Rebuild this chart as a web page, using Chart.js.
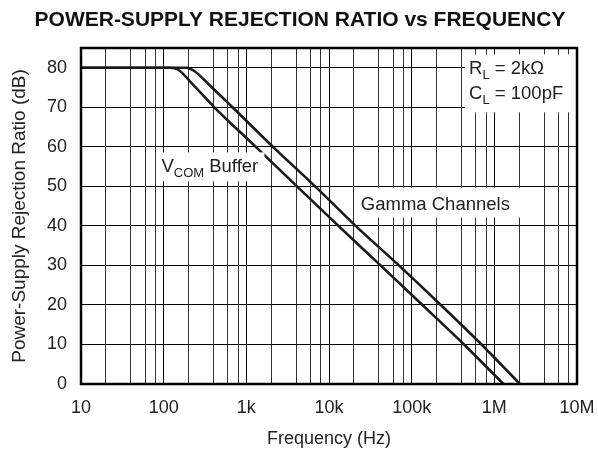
<!DOCTYPE html>
<html>
<head>
<meta charset="utf-8">
<script src="https://cdn.jsdelivr.net/npm/chart.js@4.4.0/dist/chart.umd.min.js"></script>
<style>
  body { margin: 0; background: #fff; }
  #wrap { width: 598px; height: 450px; }
</style>
</head>
<body>
<div id="wrap"><canvas id="myChart" width="598" height="450"></canvas></div>
<script>
// values
var freqVcom = [10, 120, 150, 225, 410, 1300, 4100, 13000, 42000, 135000, 430000, 1290000];
var psrrVcom = [80, 80, 79.5, 75.8, 70, 60, 50, 40, 30, 20, 10, 0];

var freqGamma = [10, 190, 230, 368, 680, 2100, 6800, 21000, 70000, 225000, 700000, 2040000];
var psrrGamma = [80, 80, 79.3, 75.4, 70, 60, 50, 40, 30, 20, 10, 0];

var xTickValues = [10, 100, 1000, 10000, 100000, 1000000, 10000000];
var xTickLabels = ['10', '100', '1k', '10k', '100k', '1M', '10M'];
var xMinorMult = [2, 4, 6, 8];
var yTicks = [0, 10, 20, 30, 40, 50, 60, 70, 80];

var FONT = '"Liberation Sans", Arial, Helvetica, sans-serif';

function toPoints(xs, ys) {
  var pts = [];
  for (let i = 0; i < xs.length; i++) pts.push({x: xs[i], y: ys[i]});
  return pts;
}

// grid: decades plus 2,4,6,8 inside each decade
var xGridValues = [];
for (let i = 0; i < xTickValues.length; i++) {
  xGridValues.push(xTickValues[i]);
  if (i < xTickValues.length - 1) {
    for (let m = 0; m < xMinorMult.length; m++) xGridValues.push(xTickValues[i] * xMinorMult[m]);
  }
}

// labels with white boxes, anchored at data coords
var notes = [
  {f: 81.7, db: 58.6, w: 108, h: 29, parts: [['V', 18.5, 0], ['COM', 13, 5], [' Buffer', 18.5, 0]], tx: 5, ty: 20},
  {f: 21100, db: 49.7, w: 166, h: 30, parts: [['Gamma Channels', 18.5, 0]], tx: 5, ty: 22}
];

var labelPlugin = {
  id: 'labels',
  afterDatasetsDraw(chart) {
    var ctx = chart.ctx;
    var xs = chart.scales.x, ys = chart.scales.y;
    ctx.save();
    ctx.textBaseline = 'alphabetic';
    notes.forEach(function (n) {
      var px = xs.getPixelForValue(n.f), py = ys.getPixelForValue(n.db);
      ctx.fillStyle = '#fff';
      ctx.fillRect(px, py, n.w, n.h);
      var cx = px + n.tx;
      n.parts.forEach(function (p) {
        ctx.font = p[1] + 'px ' + FONT;
        ctx.fillStyle = '#222';
        ctx.fillText(p[0], cx, py + n.ty + p[2]);
        cx += ctx.measureText(p[0]).width;
      });
    });

    // RL / CL box at top right
    var a = chart.chartArea;
    var bx = xs.getPixelForValue(443000), by = ys.getPixelForValue(83.4);
    ctx.fillStyle = '#fff';
    ctx.fillRect(bx, by, a.right - bx, 58);
    var rows = [['R', 'L', ' = 2k\u03A9'], ['C', 'L', ' = 100pF']];
    rows.forEach(function (r, i) {
      var x0 = bx + 4, y0 = by + 20 + i * 25;
      ctx.fillStyle = '#222';
      ctx.font = '18.5px ' + FONT;
      ctx.fillText(r[0], x0, y0);
      x0 += ctx.measureText(r[0]).width;
      ctx.font = '13px ' + FONT;
      ctx.fillText(r[1], x0, y0 + 5);
      x0 += ctx.measureText(r[1]).width;
      ctx.font = '18.5px ' + FONT;
      ctx.fillText(r[2], x0, y0);
    });

    // plot frame
    ctx.strokeStyle = '#000';
    ctx.lineWidth = 2.5;
    ctx.strokeRect(a.left, a.top, a.right - a.left, a.bottom - a.top);
    ctx.restore();
  },
  afterDraw(chart) {
    var ctx = chart.ctx;
    ctx.save();
    ctx.font = 'bold 21px ' + FONT;
    ctx.fillStyle = '#111';
    ctx.textAlign = 'center';
    ctx.textBaseline = 'middle';
    ctx.fillText('POWER-SUPPLY REJECTION RATIO vs FREQUENCY', 300, 20);
    ctx.restore();
  }
};

new Chart('myChart', {
  type: 'line',
  data: {
    datasets: [{
      label: 'VCOM Buffer',
      data: toPoints(freqVcom, psrrVcom),
      borderColor: '#1a1a1a',
      borderWidth: 2.6,
      pointRadius: 0,
      fill: false,
      cubicInterpolationMode: 'monotone'
    }, {
      label: 'Gamma Channels',
      data: toPoints(freqGamma, psrrGamma),
      borderColor: '#1a1a1a',
      borderWidth: 2.6,
      pointRadius: 0,
      fill: false,
      cubicInterpolationMode: 'monotone'
    }]
  },
  options: {
    responsive: false,
    animation: false,
    layout: {padding: {left: 0, right: 21, top: 48, bottom: 0}},
    plugins: {
      legend: {display: false},
      tooltip: {enabled: false},
      title: {display: false}
    },
    scales: {
      x: {
        type: 'logarithmic',
        min: 10,
        max: 10000000,
        afterBuildTicks(scale) {
          scale.ticks = xGridValues.map(v => ({value: v}));
        },
        afterFit(scale) {
          scale.height = 66;
          scale.paddingLeft = 0;
          scale.paddingRight = 0;
        },
        ticks: {
          autoSkip: false,
          maxRotation: 0,
          padding: 13,
          color: '#222',
          font: {family: FONT, size: 18},
          callback: function (v) {
            var k = xTickValues.indexOf(v);
            return k >= 0 ? xTickLabels[k] : '';
          }
        },
        grid: {
          color: function (c) { return xTickValues.indexOf(c.tick.value) >= 0 ? '#000' : '#333'; },
          lineWidth: 1,
          drawTicks: false
        },
        border: {display: false},
        title: {
          display: true,
          text: 'Frequency (Hz)',
          color: '#222',
          font: {family: FONT, size: 18},
          padding: {top: 4, bottom: 0}
        }
      },
      y: {
        min: 0,
        max: 85,
        afterBuildTicks(scale) {
          scale.ticks = yTicks.map(v => ({value: v}));
        },
        afterFit(scale) { scale.width = 81; },
        ticks: {
          padding: 14,
          color: '#222',
          font: {family: FONT, size: 18}
        },
        grid: {
          color: '#000',
          lineWidth: 1,
          drawTicks: false
        },
        border: {display: false},
        title: {
          display: true,
          text: 'Power-Supply Rejection Ratio (dB)',
          color: '#222',
          font: {family: FONT, size: 19},
          padding: {top: 8, bottom: 0}
        }
      }
    }
  },
  plugins: [labelPlugin]
});
</script>
</body>
</html>
